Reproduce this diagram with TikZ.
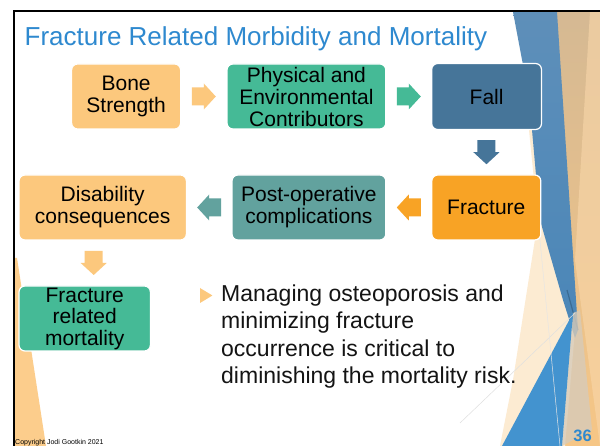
\documentclass[tikz,border=0pt]{standalone}
\usepackage{fontspec}
\setmainfont{Liberation Sans}
\usetikzlibrary{calc}
\definecolor{lorange}{RGB}{252,200,125}
\definecolor{sgreen}{RGB}{69,186,150}
\definecolor{fallblue}{RGB}{70,117,153}
\definecolor{forange}{RGB}{248,163,37}
\definecolor{steal}{RGB}{98,162,158}
\definecolor{titleblue}{RGB}{46,137,207}
\definecolor{tanc}{RGB}{213,185,147}
\definecolor{orc}{RGB}{246,198,134}
\definecolor{creamc}{RGB}{252,235,210}
\definecolor{bandtop}{RGB}{94,143,185}
\definecolor{bandbot}{RGB}{74,134,184}
\definecolor{tri}{RGB}{67,147,207}
\definecolor{leftstrip}{RGB}{252,205,140}
\newcommand{\blockarrow}[3]{%
  \fill[#3, shift={(#1)}, rotate=#2] (-12,-9) -- (0,-9) -- (0,-13) -- (12,0) -- (0,13) -- (0,9) -- (-12,9) -- cycle;}
\begin{document}
\begin{tikzpicture}[x=1pt,y=-1pt,
  box/.style={rounded corners=6pt, draw=white, line width=1.2pt, inner sep=0pt, align=center,
              font=\fontsize{21}{22}\selectfont, text=black},
  bullettext/.style={anchor=base west, inner sep=0pt, font=\fontsize{23}{27}\selectfont, text=black!92}]
\useasboundingbox (0,0) rectangle (600,446);
\fill[white] (0,0) rectangle (600,446);
% right-hand background facets
\shade[top color=tanc, bottom color=orc] (550,12) -- (600,12) -- (600,446) -- (555,446) -- cycle;
\fill[orc!70!white, opacity=.6] (590,12) -- (600,12) -- (600,446) -- (575,260) -- cycle;
\fill[creamc] (528,120) -- (550,120) -- (575,330) -- (565,446) -- (500,446) -- (513,380) -- (538,220) -- cycle;
\shade[top color=bandtop, bottom color=bandbot] (513,12) -- (557,12) -- (578,330) -- (575,338) -- (563,300) -- (540,220) -- (532,130) -- (523,65) -- cycle;
\draw[bandbot!80!black, line width=1.2pt] (567,290) -- (578,330);
\fill[gray!30!creamc, opacity=.8] (573,313) -- (580,310) -- (592,430) -- (562,446) -- cycle;
\fill[tri] (502,446) -- (573,313) -- (562,446) -- cycle;
\draw[gray!25, line width=0.5pt] (460,423) -- (575,313);
\draw[gray!20, line width=0.5pt] (538,220) -- (560,446);
% left strip
\fill[leftstrip] (14,258) -- (17,258) -- (46,446) -- (14,446) -- cycle;
% frame
\draw[line width=2.4pt, line join=miter] (13.8,446) -- (13.8,11.2) -- (600,11.2);
% title
\node[anchor=base west, inner sep=0pt, text=titleblue, font=\fontsize{26}{30}\selectfont] (title) at (24.5,45.7) {Fracture Related Morbidity and Mortality};
% boxes
\node[box, fill=lorange, minimum width=109pt, minimum height=65pt] (bone) at (126.1,96.5) {Bone\\Strength};
\node[box, fill=sgreen, minimum width=158.8pt, minimum height=65pt] (phys) at (306.4,96.5) {Physical and\\Environmental\\Contributors};
\node[box, fill=fallblue, minimum width=109.8pt, minimum height=66pt] (fall) at (486.6,96.5) {Fall};
\node[box, fill=forange, minimum width=109pt, minimum height=65pt] (frac) at (486.3,207.5) {Fracture};
\node[box, fill=steal, minimum width=153.8pt, minimum height=65pt] (post) at (308.9,207.5) {Post-operative\\complications};
\node[box, fill=lorange, minimum width=167.4pt, minimum height=65pt] (dis) at (102.7,207.5) {Disability\\consequences};
\node[box, fill=sgreen, minimum width=131.4pt, minimum height=65pt, font=\fontsize{21}{21.5}\selectfont] (mort) at (84.7,318.5) {Fracture\\related\\mortality};
% block arrows
\coordinate (a1) at ($(bone.east)!0.5!(phys.west)$);
\coordinate (a2) at ($(phys.east)!0.5!(fall.west)$);
\coordinate (a3) at ($(fall.south)!0.5!(frac.north)$);
\coordinate (a4) at ($(frac.west)!0.5!(post.east)$);
\coordinate (a5) at ($(post.west)!0.5!(dis.east)$);
\coordinate (a6) at ($(dis.south)!0.5!(mort.north)$);
\blockarrow{a1}{0}{lorange}
\blockarrow{a2}{0}{sgreen}
\blockarrow{a3}{-90}{fallblue}
\blockarrow{a4}{180}{forange}
\blockarrow{a5}{180}{steal}
\blockarrow{a6}{-90}{lorange}
% bullet
\fill[lorange] (200,288) -- (212.4,295.5) -- (200,303) -- cycle;
\node[bullettext] (l1) at (221,301.7) {Managing osteoporosis and};
\node[bullettext] (l2) at (221,328.8) {minimizing fracture};
\node[bullettext] (l3) at (221,356) {occurrence is critical to};
\node[bullettext] (l4) at (221,383.2) {diminishing the mortality risk.};
% footer
\node[anchor=base east, inner sep=0pt, text=titleblue, font=\bfseries\fontsize{16.5}{18}\selectfont] (page) at (592,441.7) {36};
\node[anchor=base west, inner sep=0pt, font=\fontsize{7}{8}\selectfont] (copy) at (15,444.2) {Copyright Jodi Gootkin 2021};
\end{tikzpicture}
\end{document}
